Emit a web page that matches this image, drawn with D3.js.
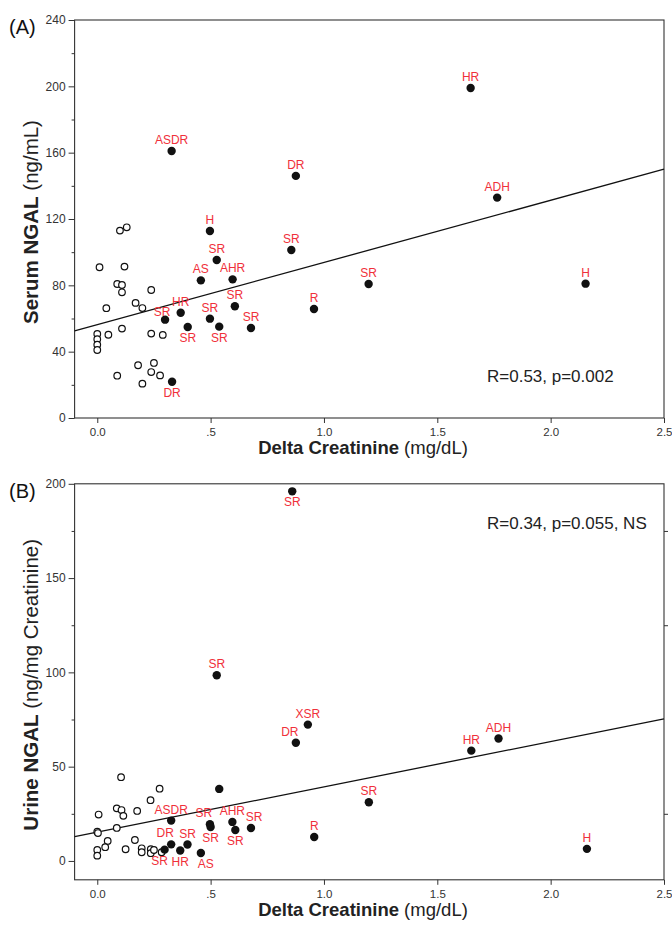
<!DOCTYPE html>
<html>
<head>
<meta charset="utf-8">
<title>NGAL vs Delta Creatinine</title>
<script src="https://cdn.jsdelivr.net/npm/d3@7/dist/d3.min.js"></script>
<style>
  html, body {margin: 0; padding: 0; background: #fff; font-family: "Liberation Sans", Arial, sans-serif;}
  svg text {font-family: "Liberation Sans", Arial, sans-serif;}
</style>
</head>
<body>
<div id="chart"></div>
<script>
// x axis (shared)
var xTicks = [0, 0.5, 1, 1.5, 2, 2.5];
var xTickLabels = ["0.0", ".5", "1.0", "1.5", "2.0", "2.5"];

// (A) serum NGAL - controls (open circles)
var serumCtrlX = [0.01, 0.12, 0.088, 0.109, 0.109, 0.238, 0.169, 0.04, 0.199, 0.109, 0, 0.049, 0.238, 0.289, 0, 0, 0, 0.18, 0.25, 0.238, 0.277, 0.088, 0.199, 0.10, 0.13];
var serumCtrlY = [90.9, 91.3, 80.8, 80.2, 75.8, 77.2, 69.4, 66.2, 66.3, 53.9, 50.7, 50.2, 50.9, 50.1, 47.5, 44.2, 41.0, 31.8, 33.2, 27.7, 25.7, 25.5, 20.7, 113, 115];

// (A) serum NGAL - patients (filled circles)
var serumPtX = [0.328, 0.876, 0.497, 0.856, 0.527, 0.457, 0.597, 0.607, 0.956, 0.368, 0.299, 0.497, 0.399, 0.538, 0.678, 0.33, 1.197, 1.647, 1.764, 2.154];
var serumPtY = [161.0, 146.0, 112.8, 101.3, 95.3, 83.0, 83.6, 67.4, 65.7, 63.5, 59.3, 59.9, 54.9, 55.1, 54.3, 21.9, 80.8, 199, 132.9, 81.0];
var serumPtLabel = ["ASDR", "DR", "H", "SR", "SR", "AS", "AHR", "SR", "R", "HR", "SR", "SR", "SR", "SR", "SR", "DR", "SR", "HR", "ADH", "H"];
var serumFit = [56.3, 37.5];   // intercept, slope
var serumStat = "R=0.53, p=0.002";

// (B) urine NGAL - controls
var urineCtrlX = [0.105, 0.275, 0.235, 0.006, 0.086, 0.107, 0.115, 0.176, 0.086, 0, 0.003, 0.046, 0.035, 0, 0, 0.125, 0.166, 0.196, 0.196, 0.236, 0.236, 0.25, 0.284];
var urineCtrlY = [44.4, 38.3, 32.2, 24.6, 27.9, 27.0, 23.9, 26.5, 17.5, 15.5, 14.8, 10.6, 7.3, 5.8, 2.8, 6.2, 11.1, 6.7, 4.6, 6.2, 4.1, 5.8, 4.6];

// (B) urine NGAL - patients
var urinePtX = [0.86, 0.527, 0.929, 0.876, 0.538, 1.198, 0.326, 0.497, 0.50, 0.596, 0.609, 0.678, 0.957, 0.326, 0.398, 0.297, 0.366, 0.457, 1.65, 1.77, 2.16];
var urinePtY = [196, 98.5, 72.3, 62.7, 38.2, 31.1, 21.4, 19.5, 18.0, 20.7, 16.4, 17.5, 12.7, 8.8, 8.7, 6.0, 5.5, 4.2, 58.5, 64.9, 6.4];
var urinePtLabel = ["SR", "SR", "XSR", "DR", "", "SR", "ASDR", "SR", "SR", "AHR", "SR", "SR", "R", "DR", "SR", "SR", "HR", "AS", "HR", "ADH", "H"];
var urineFit = [15.3, 24.0];
var urineStat = "R=0.34, p=0.055, NS";

// label placement (layout only): t = above, b = below, l/r = shifted
var serumLabelPos = ["t","t","t","t","t","t","t","t","t","t","sl","t","b","b","t","b","t","t","t","t"];
var urineLabelPos = ["b","t","t","tl","t","t","t","tl","b","t","b","tr","t","tl","t","bl","b","br","t","t","t"];

var placement = {
    t:  [0, -7], b: [0, 15],
    tl: [-6, -7], tr: [3, -7],
    bl: [-5, 15], br: [5, 15],
    sl: [-3, -4]
};

var width = 672, height = 939;
var red = "#f0303a", ink = "#333";

var svg = d3.select("#chart").append("svg")
    .attr("width", width)
    .attr("height", height);

function zip(xs, ys) {
    return xs.map(function(x, i) { return {x: x, y: ys[i]}; });
}

function drawPanel(cfg) {
    var x = d3.scaleLinear().domain([-0.1, 2.5]).range([74.6, 664]);
    var y = d3.scaleLinear().domain(cfg.yDomain).range(cfg.yRange);
    var g = svg.append("g");
    var x0 = x.range()[0], x1 = x.range()[1];
    var yb = y.range()[0], yt = y.range()[1];

    // frame
    g.append("rect")
        .attr("x", x0).attr("y", yt)
        .attr("width", x1 - x0).attr("height", yb - yt)
        .attr("fill", "none").attr("stroke", ink).attr("stroke-width", 1.1);

    // y axis
    var yAxis = d3.axisLeft(y).tickValues(cfg.yTicks).tickSize(6).tickPadding(3).tickFormat(d3.format("d"));
    var ya = g.append("g").attr("transform", "translate(" + x0 + ",0)").call(yAxis);
    var yMinor = d3.axisLeft(y).tickValues(cfg.yMinor).tickSize(3).tickFormat("");
    var ym = g.append("g").attr("transform", "translate(" + x0 + ",0)").call(yMinor);

    // x axis
    var xAxis = d3.axisBottom(x).tickValues(xTicks).tickSize(5).tickPadding(5)
        .tickFormat(function(d, i) { return xTickLabels[i]; });
    var xa = g.append("g").attr("transform", "translate(0," + yb + ")").call(xAxis);

    [ya, ym, xa].forEach(function(a) {
        a.select(".domain").remove();
        a.selectAll("line").attr("stroke", ink);
        a.selectAll("text").attr("fill", "#333").style("font-size", "12px");
    });
    xa.selectAll("text").style("font-size", "11.5px");

    if (cfg.rightTicks) {
        var ra = g.append("g").attr("transform", "translate(" + x1 + ",0)")
            .call(d3.axisLeft(y).tickValues(cfg.rightTicks).tickSize(4).tickFormat(""));
        ra.select(".domain").remove();
        ra.selectAll("line").attr("stroke", ink).attr("transform", "translate(4,0)");
    }

    // regression line
    var fx = x.domain();
    g.append("line")
        .attr("x1", x(fx[0])).attr("y1", y(cfg.fit[0] + cfg.fit[1] * fx[0]))
        .attr("x2", x(fx[1])).attr("y2", y(cfg.fit[0] + cfg.fit[1] * fx[1]))
        .attr("stroke", "#111").attr("stroke-width", 1.3);

    // controls
    g.selectAll(".ctrl").data(zip(cfg.ctrlX, cfg.ctrlY)).enter().append("circle")
        .attr("class", "ctrl")
        .attr("cx", function(d) { return x(d.x); })
        .attr("cy", function(d) { return y(d.y); })
        .attr("r", 3.3)
        .attr("fill", "#fff").attr("stroke", "#111").attr("stroke-width", 1.2);

    // patients
    var pts = zip(cfg.ptX, cfg.ptY);
    g.selectAll(".pt").data(pts).enter().append("circle")
        .attr("class", "pt")
        .attr("cx", function(d) { return x(d.x); })
        .attr("cy", function(d) { return y(d.y); })
        .attr("r", 4.2)
        .attr("fill", "#111");

    g.selectAll(".lbl").data(pts).enter().append("text")
        .attr("class", "lbl")
        .attr("x", function(d, i) { return x(d.x) + placement[cfg.pos[i]][0]; })
        .attr("y", function(d, i) { return y(d.y) + placement[cfg.pos[i]][1]; })
        .attr("text-anchor", "middle")
        .attr("fill", red)
        .style("font-size", "12px")
        .text(function(d, i) { return cfg.labels[i]; });

    // stat text
    g.append("text")
        .attr("x", cfg.statPos[0]).attr("y", cfg.statPos[1])
        .attr("fill", "#222").style("font-size", "17px")
        .text(cfg.stat);

    // axis titles
    var xt = g.append("text")
        .attr("x", 363).attr("y", yb + 36)
        .attr("text-anchor", "middle").attr("fill", "#222").style("font-size", "18.5px");
    xt.append("tspan").attr("font-weight", "bold").text("Delta Creatinine");
    xt.append("tspan").text(" (mg/dL)");

    var yt2 = g.append("text")
        .attr("transform", "translate(" + 37.5 + "," + ((yb + yt) / 2 + 3) + ") rotate(-90)")
        .attr("text-anchor", "middle").attr("fill", "#222").style("font-size", "20.5px");
    yt2.append("tspan").attr("font-weight", "bold").text(cfg.yTitleBold);
    yt2.append("tspan").text(cfg.yTitleRest);

    g.append("text")
        .attr("x", 9).attr("y", yt + 14)
        .attr("fill", "#111").style("font-size", "20px")
        .text(cfg.tag);
}

drawPanel({
    yDomain: [0, 240], yRange: [418, 20],
    yTicks: [0, 40, 80, 120, 160, 200, 240],
    yMinor: [20, 60, 100, 140, 180, 220],
    ctrlX: serumCtrlX, ctrlY: serumCtrlY,
    ptX: serumPtX, ptY: serumPtY, labels: serumPtLabel, pos: serumLabelPos,
    fit: serumFit, stat: serumStat, statPos: [487, 382],
    yTitleBold: "Serum NGAL", yTitleRest: " (ng/mL)", tag: "(A)"
});

drawPanel({
    yDomain: [-10, 200], yRange: [879.8, 483.8],
    yTicks: [0, 50, 100, 150, 200],
    yMinor: [25, 75, 125, 175],
    rightTicks: [25, 125, 175],
    ctrlX: urineCtrlX, ctrlY: urineCtrlY,
    ptX: urinePtX, ptY: urinePtY, labels: urinePtLabel, pos: urineLabelPos,
    fit: urineFit, stat: urineStat, statPos: [487, 529],
    yTitleBold: "Urine NGAL", yTitleRest: " (ng/mg Creatinine)", tag: "(B)"
});
</script>
</body>
</html>
